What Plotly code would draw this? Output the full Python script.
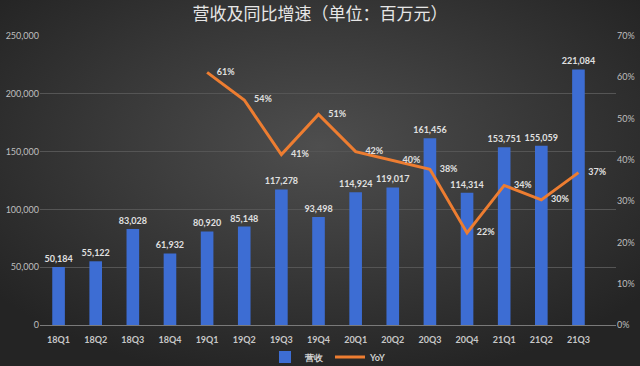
import plotly.graph_objects as go

categories = ["18Q1", "18Q2", "18Q3", "18Q4", "19Q1", "19Q2", "19Q3", "19Q4",
              "20Q1", "20Q2", "20Q3", "20Q4", "21Q1", "21Q2", "21Q3"]
revenue = [50184, 55122, 83028, 61932, 80920, 85148, 117278, 93498,
           114924, 119017, 161456, 114314, 153751, 155059, 221084]
yoy_categories = categories[4:]
yoy = [61.2, 54.5, 41.3, 51.0, 42.0, 39.8, 37.7, 22.3, 33.8, 30.3, 36.9]
yoy_labels = ["61%", "54%", "41%", "51%", "42%", "40%", "38%", "22%", "34%", "30%", "37%"]
left_ticks = [0, 50000, 100000, 150000, 200000, 250000]
left_ticktext = ["0", "50,000", "100,000", "150,000", "200,000", "250,000"]
right_ticks = [0, 10, 20, 30, 40, 50, 60, 70]
right_ticktext = ["0%", "10%", "20%", "30%", "40%", "50%", "60%", "70%"]

W, H = 640, 366
L, R, T, B = 40, 24, 36, 41
PW, PH = W - L - R, H - T - B

bg_svg = ("data:image/svg+xml;utf8,"
          "<svg xmlns='http://www.w3.org/2000/svg' width='640' height='366'>"
          "<defs><radialGradient id='g' cx='50%' cy='40%' r='65%'>"
          "<stop offset='0%' stop-color='%234e4e4e'/>"
          "<stop offset='100%' stop-color='%23242424'/>"
          "</radialGradient></defs>"
          "<rect width='640' height='366' fill='url(%23g)'/></svg>")

fig = go.Figure()
fig.add_trace(go.Bar(
    x=categories, y=revenue, name="营收",
    marker=dict(color="#3d6dd3", line=dict(width=0)),
    width=0.34,
    text=[f"{v:,}" for v in revenue], textposition="outside",
    constraintext="none",
    textfont=dict(family="Lato", size=9, color="#e0e0e0", weight="bold"),
    cliponaxis=False,
))
fig.add_trace(go.Scatter(
    x=yoy_categories, y=yoy, name="YoY", yaxis="y2",
    mode="lines+markers+text", line=dict(color="#ed7d31", width=3),
    marker=dict(size=14, color="rgba(0,0,0,0)"),
    text=yoy_labels, textposition="middle right",
    textfont=dict(family="Lato", size=9, color="#e0e0e0", weight="bold"),
    cliponaxis=False,
))

fig.update_layout(
    width=W, height=H,
    margin=dict(l=L, r=R, t=T, b=B, autoexpand=False),
    paper_bgcolor="#333333", plot_bgcolor="rgba(0,0,0,0)",
    images=[dict(source=bg_svg, xref="paper", yref="paper",
                 x=-L / PW, y=(H - B) / PH,
                 sizex=W / PW, sizey=H / PH,
                 sizing="stretch", layer="below", xanchor="left", yanchor="top")],
    title=dict(text="营收及同比增速（单位：百万元）", x=0.5, xanchor="center",
               y=1 - 14 / H, yanchor="middle",
               font=dict(family="Noto Sans CJK SC", size=17, color="#e6e6e6")),
    font=dict(family="Lato", color="#bfbfbf", size=9),
    showlegend=True,
    legend=dict(orientation="h", x=0.5, xanchor="center",
                yref="container", y=9 / H, yanchor="middle",
                font=dict(family="Lato", size=9, color="#d0d0d0", weight="bold"),
                itemwidth=30, tracegroupgap=0,
                bgcolor="rgba(0,0,0,0)"),
    xaxis=dict(type="category", showgrid=False, showline=True, linecolor="#7a7a7a",
               linewidth=1, ticks="", automargin=False,
               tickfont=dict(size=9, color="#c8c8c8", weight="bold"),
               ticklabelstandoff=6),
    yaxis=dict(range=[0, 250000], tickvals=left_ticks, ticktext=left_ticktext,
               showgrid=True, gridcolor="#555555", gridwidth=1, zeroline=False,
               automargin=False,
               showline=False, tickfont=dict(size=9, color="#bfbfbf"), ticks=""),
    yaxis2=dict(range=[0, 70], tickvals=right_ticks, ticktext=right_ticktext,
                overlaying="y", side="right", showgrid=False, zeroline=False,
                automargin=False,
                showline=False, tickfont=dict(size=9, color="#bfbfbf"), ticks=""),
)

fig.write_html("out.html", config={"displayModeBar": False},
               post_script="document.body.style.margin='0';")
